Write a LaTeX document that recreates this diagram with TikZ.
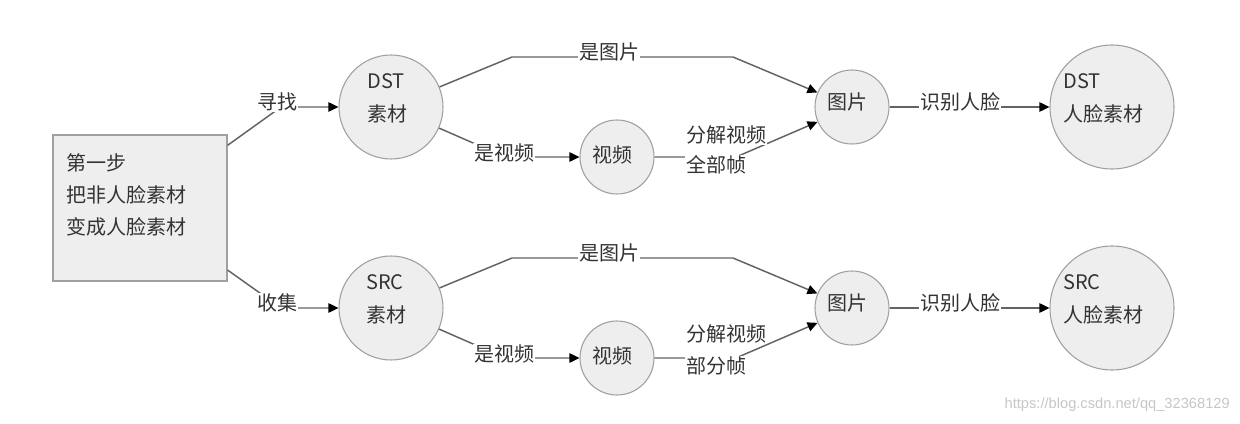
\documentclass[tikz,border=0pt]{standalone}
\usepackage{fontspec}
\setmainfont{Noto Sans CJK SC}
\newfontfamily\wmfont{Liberation Sans}
\usetikzlibrary{arrows.meta}
\definecolor{linegray}{HTML}{636363}
\definecolor{bordergray}{HTML}{A0A0A0}
\definecolor{nodefill}{HTML}{EEEEEE}
\definecolor{textgray}{HTML}{333333}
\begin{document}
\begin{tikzpicture}[x=0.75pt,y=-0.75pt,
  every node/.style={text=textgray, font=\fontsize{15}{24.5}\selectfont},
  circ/.style={circle, draw=bordergray, fill=nodefill, line width=0.8pt, inner sep=0pt, minimum size=#1},
  stepbox/.style={rectangle, draw=bordergray, fill=nodefill, line width=0.8pt, inner sep=0pt, minimum width=130.5pt, minimum height=109.5pt},
  txt/.style={inner sep=0pt, align=left},
  lbl/.style={fill=white, inner sep=0.6pt},
  conn/.style={draw=linegray, line width=1.1pt, -{Triangle[length=7.5pt,width=7pt,color=black]}}
]
\useasboundingbox (0,0) rectangle (1240,424);
\fill[white] (0,0) rectangle (1240,424);

% nodes
\node[stepbox] (box) at (140,208) {};
\node[txt, anchor=west, font=\fontsize{15}{24}\selectfont] (boxtxt) at (66,195) {第一步\\把非人脸素材\\变成人脸素材};

\node[circ=78pt] (dst) at (391,107) {};
\node[txt, anchor=west] (dsttxt) at (367,98.5) {DST\\素材};
\node[circ=78pt] (src) at (391,308) {};
\node[txt, anchor=west] (srctxt) at (366,299.5) {SRC\\素材};

\node[circ=55.5pt] (vid1) at (617,157) {};
\node[txt] (vid1txt) at (612,155) {视频};
\node[circ=55.5pt] (vid2) at (617,358) {};
\node[txt] (vid2txt) at (612,356) {视频};

\node[circ=55.5pt] (img1) at (852,107) {};
\node[txt] (img1txt) at (847,102) {图片};
\node[circ=55.5pt] (img2) at (852,308) {};
\node[txt] (img2txt) at (847,303) {图片};

\node[circ=93pt] (face1) at (1112,107) {};
\node[txt, anchor=west] (face1txt) at (1063,98.5) {DST\\人脸素材};
\node[circ=93pt] (face2) at (1112,308) {};
\node[txt, anchor=west] (face2txt) at (1063,299.5) {SRC\\人脸素材};

% waypoints
\coordinate (wa) at (281,107);
\coordinate (wb) at (281,308);
\coordinate (p1) at (512,57);
\coordinate (p2) at (733,57);
\coordinate (p3) at (512,258);
\coordinate (p4) at (733,258);
\coordinate (q1) at (505,157);
\coordinate (q2) at (505,358);
\coordinate (r1) at (736,157);
\coordinate (r2) at (736,358);

% connectors
\draw[conn] (box) -- (wa) -- (dst);
\draw[conn] (box) -- (wb) -- (src);
\draw[conn] (dst) -- (p1) -- (p2) -- (img1);
\draw[conn] (src) -- (p3) -- (p4) -- (img2);
\draw[conn] (dst) -- (q1) -- (vid1);
\draw[conn] (src) -- (q2) -- (vid2);
\draw[conn] (vid1) -- (r1) -- (img1);
\draw[conn] (vid2) -- (r2) -- (img2);
\draw[conn] (img1) -- (face1);
\draw[conn] (img2) -- (face2);

% labels
\node[lbl] (l1) at (277,102) {寻找};
\node[lbl] (l2) at (277,303) {收集};
\node[lbl] (l3) at (609,52) {是图片};
\node[lbl] (l4) at (609,253) {是图片};
\node[lbl] (l5) at (504,153) {是视频};
\node[lbl] (l6) at (504,354) {是视频};
\node[lbl, anchor=west] (l7a) at (685,135) {分解视频};
\node[lbl, anchor=west] (l7b) at (685,165) {全部帧};
\node[lbl, anchor=west] (l8a) at (685,334) {分解视频};
\node[lbl, anchor=west] (l8b) at (685,366) {部分帧};
\node[lbl] (l9) at (960,102) {识别人脸};
\node[lbl] (l10) at (960,303) {识别人脸};

% watermark
\node[inner sep=0pt, anchor=east, text=black!22, font=\wmfont\fontsize{11}{12}\selectfont] (wm) at (1230,405) {https://blog.csdn.net/qq\_32368129};
\end{tikzpicture}
\end{document}
